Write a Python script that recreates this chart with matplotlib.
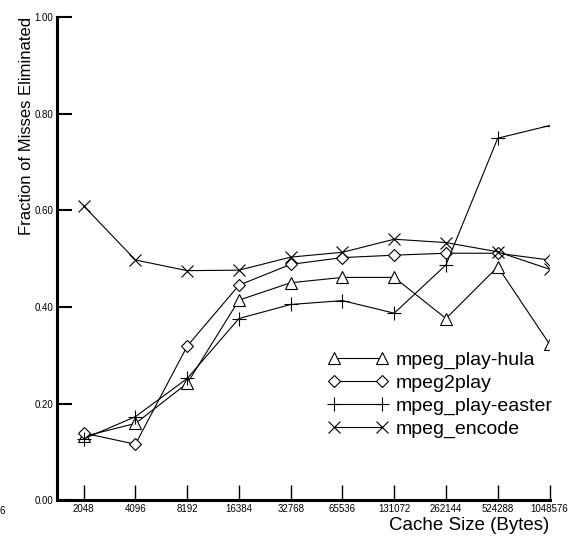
import matplotlib
matplotlib.use('Agg')
from matplotlib import pyplot as plt
from matplotlib.patches import Rectangle

plt.rcParams['font.family'] = ['Liberation Sans', 'DejaVu Sans']

sizes = [2048, 4096, 8192, 16384, 32768, 65536, 131072, 262144, 524288, 1048576]
size_labels = [str(s) for s in sizes]

hula = [0.132, 0.159, 0.242, 0.414, 0.450, 0.461, 0.461, 0.376, 0.483, 0.323]
mpeg2play = [0.139, 0.116, 0.319, 0.445, 0.488, 0.502, 0.507, 0.511, 0.511, 0.497]
easter = [0.127, 0.173, 0.252, 0.376, 0.405, 0.413, 0.387, 0.487, 0.749, 0.775]
encode = [0.609, 0.497, 0.475, 0.476, 0.503, 0.513, 0.540, 0.533, 0.514, 0.478]

y_ticks = [0.0, 0.2, 0.4, 0.6, 0.8, 1.0]

fig = plt.figure(figsize=(5.72, 5.39), dpi=100)
ax = fig.add_axes([0.1002, 0.0718, 0.8605, 0.897])

common = dict(color='black', lw=0.8, mfc='white', mec='black', mew=0.8)
ax.plot(sizes, hula, marker='^', ms=9, label='mpeg_play-hula', **common)
ax.plot(sizes, mpeg2play, marker='D', ms=6.5, label='mpeg2play', **common)
ax.plot(sizes, easter, marker='+', ms=10, label='mpeg_play-easter', **common)
ax.plot(sizes, encode, marker='x', ms=9, label='mpeg_encode', **common)

# the original cuts the last markers in half at the right edge
ax.add_patch(Rectangle((1, 0.04), 0.1, 0.95, transform=ax.transAxes,
                       color='white', clip_on=False, zorder=5))

ax.set_xscale('log', base=2)
ax.set_xlim(2 ** 10.49, 1048576)
ax.set_ylim(0, 1)
ax.set_xticks(sizes)
ax.set_xticklabels(size_labels)
ax.minorticks_off()
ax.set_yticks(y_ticks)
ax.set_yticklabels(['%.2f' % v for v in y_ticks])

for s in ['top', 'right']:
    ax.spines[s].set_visible(False)
for s in ['left', 'bottom']:
    ax.spines[s].set_linewidth(2.2)

ax.tick_params(axis='y', direction='in', length=11, width=1.5, labelsize=7, pad=3)
ax.tick_params(axis='x', direction='in', length=11, width=1.0, labelsize=7, pad=3)

ax.set_ylabel('Fraction of Misses Eliminated', fontsize=12, loc='top', labelpad=0)
ax.set_xlabel('Cache Size (Bytes)', fontsize=13.5, loc='right', labelpad=2)

ax.legend(loc='upper left', bbox_to_anchor=(0.5734, 0.349), bbox_transform=fig.transFigure,
          frameon=False, fontsize=14, numpoints=2, handlelength=3.1,
          handletextpad=0.4, labelspacing=0.28, borderpad=0, borderaxespad=0)

fig.text(0.008, 0.052, '6', fontsize=7, ha='right', va='center')

fig.savefig('out.png', dpi=100)
